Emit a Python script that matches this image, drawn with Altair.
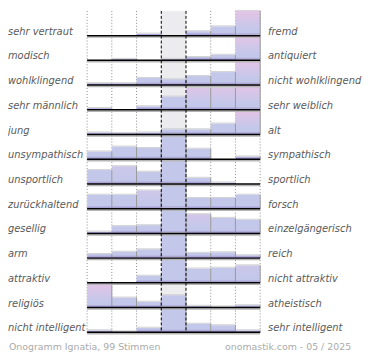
import altair as alt
import pandas as pd

left_labels = ["sehr vertraut", "modisch", "wohlklingend", "sehr männlich", "\u00a0jung",
               "unsympathisch", "unsportlich", "zurückhaltend", "gesellig", "arm",
               "attraktiv", "religiös", "nicht intelligent"]
right_labels = ["fremd", "antiquiert", "nicht wohlklingend", "sehr weiblich", "alt",
                "sympathisch", "sportlich", "forsch", "einzelgängerisch", "reich",
                "nicht attraktiv", "atheistisch", "sehr intelligent"]

votes_vertraut = [0, 0, 5, 0, 11, 23, 61]
votes_modisch = [0, 4, 0, 4, 9, 15, 66]
votes_wohlklingend = [3, 3, 11, 9, 14, 20, 38]
votes_maennlich = [2, 0, 4, 15, 25, 25, 28]
votes_jung = [4, 3, 4, 10, 10, 21, 47]
votes_sympathisch = [11, 18, 16, 35, 15, 0, 4]
votes_sportlich = [18, 23, 16, 32, 8, 2, 0]
votes_forsch = [13, 13, 17, 23, 10, 10, 13]
votes_gesellig = [2, 8, 9, 27, 21, 17, 15]
votes_arm = [7, 11, 15, 42, 9, 10, 5]
votes_attraktiv = [0, 0, 9, 31, 18, 19, 22]
votes_religioes = [42, 17, 10, 21, 3, 2, 4]
votes_intelligent = [4, 2, 9, 49, 17, 14, 4]

footer_left = "Onogramm Ignatia, 99 Stimmen"
footer_right = "onomastik.com - 05 / 2025"

all_votes = [votes_vertraut, votes_modisch, votes_wohlklingend, votes_maennlich, votes_jung,
             votes_sympathisch, votes_sportlich, votes_forsch, votes_gesellig, votes_arm,
             votes_attraktiv, votes_religioes, votes_intelligent]
n_rows = len(all_votes)
n_cols = 7

recs = []
for r, vs in enumerate(all_votes):
    for c, v in enumerate(vs):
        recs.append({"row": r, "col": c + 1, "votes": v})
df = pd.DataFrame(recs)
rows_df = pd.DataFrame({"row": list(range(n_rows)), "left": left_labels, "right": right_labels,
                        "xa": [0] * n_rows, "xb": [n_cols] * n_rows})

xs = alt.Scale(domain=[0, n_cols])
ys = alt.Scale(domain=[0, n_rows], reverse=True)
FONT = "DejaVu Sans"

bars = (alt.Chart(df)
        .transform_joinaggregate(rmax="max(votes)", groupby=["row"])
        .transform_filter("datum.votes > 0")
        .transform_calculate(x0="datum.col - 1", base="datum.row + 1",
                             frac="datum.votes / datum.rmax",
                             top="datum.row + 1 - datum.votes / datum.rmax",
                             stop="datum.row + 1 - min(datum.votes / datum.rmax, 0.13)")
        .transform_calculate(pinkop="datum.col == 4 ? 0 : max(0, (datum.frac - 0.6) / 0.4)"))

enc = dict(x=alt.X("x0:Q", scale=xs, axis=None), x2="col:Q",
           y=alt.Y("base:Q", scale=ys, axis=None), y2="top:Q")

bar_base = bars.mark_rect(fill="#c3c8ea").encode(**enc)
bar_pink = bars.mark_rect(fill=alt.Gradient(
    gradient="linear", x1=0, x2=0, y1=0, y2=1,
    stops=[alt.GradientStop(color="rgba(228,196,230,1)", offset=0),
           alt.GradientStop(color="rgba(228,196,230,0)", offset=0.75)])
).encode(**enc, opacity=alt.Opacity("pinkop:Q", scale=None, legend=None))
bar_bottom = bars.mark_rect(fill=alt.Gradient(
    gradient="linear", x1=0, x2=0, y1=0, y2=1,
    stops=[alt.GradientStop(color="rgba(140,120,190,0)", offset=0),
           alt.GradientStop(color="rgba(140,120,190,0.8)", offset=1)])
).encode(x=alt.X("x0:Q", scale=xs, axis=None), x2="col:Q",
         y=alt.Y("base:Q", scale=ys, axis=None), y2="stop:Q")
bar_topedge = bars.mark_rule(color="#d2d2d2", strokeWidth=1, yOffset=-0.5).encode(
    x=alt.X("x0:Q", scale=xs, axis=None), x2="col:Q", y=alt.Y("top:Q", scale=ys, axis=None))
bar_rightedge = bars.mark_rule(color="#9a9a9a", strokeWidth=1).encode(
    x=alt.X("col:Q", scale=xs, axis=None), y=alt.Y("base:Q", scale=ys, axis=None), y2="top:Q")

mid_bg = alt.Chart(pd.DataFrame({"a": [3], "b": [4], "ya": [0], "yb": [n_rows]})).mark_rect(
    color="#ececef").encode(
    x=alt.X("a:Q", scale=xs, axis=None), x2="b:Q",
    y=alt.Y("ya:Q", scale=ys, axis=None), y2="yb:Q")

dotted = alt.Chart(pd.DataFrame({"g": [0, 1, 2, 5, 6, 7]})).mark_rule(
    color="#8a8a8a", strokeDash=[1, 2], strokeWidth=1).encode(x=alt.X("g:Q", scale=xs, axis=None))
dashed = alt.Chart(pd.DataFrame({"g": [3, 4]})).mark_rule(
    color="#000000", strokeDash=[3, 2], strokeWidth=1).encode(x=alt.X("g:Q", scale=xs, axis=None))

rows = alt.Chart(rows_df).transform_calculate(base="datum.row + 1")
shadow = rows.mark_rule(color="#b5b5b5", strokeWidth=1.5, yOffset=1.5).encode(
    x=alt.X("xa:Q", scale=xs, axis=None), x2="xb:Q", y=alt.Y("base:Q", scale=ys, axis=None))
baseline = rows.mark_rule(color="#000000", strokeWidth=1.5).encode(
    x=alt.X("xa:Q", scale=xs, axis=None), x2="xb:Q", y=alt.Y("base:Q", scale=ys, axis=None))

left_txt = rows.mark_text(align="left", baseline="alphabetic", dy=-1, font=FONT,
                          fontStyle="italic", fontSize=10, color="#5a5a5a").encode(
    x=alt.value(-80), y=alt.Y("base:Q", scale=ys, axis=None), text="left:N")
right_txt = rows.mark_text(align="left", baseline="alphabetic", dy=-1, font=FONT,
                           fontStyle="italic", fontSize=10, color="#5a5a5a").encode(
    x=alt.value(183), y=alt.Y("base:Q", scale=ys, axis=None), text="right:N")

foot_l = alt.Chart(pd.DataFrame({"t": [footer_left]})).mark_text(
    align="left", baseline="alphabetic", font=FONT, fontSize=9.5, color="#aaaaaa").encode(
    x=alt.value(-79), y=alt.value(343), text="t:N")
foot_r = alt.Chart(pd.DataFrame({"t": [footer_right]})).mark_text(
    align="right", baseline="alphabetic", font=FONT, fontSize=9.5, color="#aaaaaa").encode(
    x=alt.value(267), y=alt.value(343), text="t:N")

chart = alt.layer(
    mid_bg, dotted, bar_base, bar_pink, bar_bottom, bar_topedge, bar_rightedge,
    shadow, baseline, dashed, left_txt, right_txt, foot_l, foot_r
).properties(width=175, height=325, padding=0, background="white").configure_view(stroke=None)

chart.save("out.html", embed_options={"renderer": "svg", "actions": False})
